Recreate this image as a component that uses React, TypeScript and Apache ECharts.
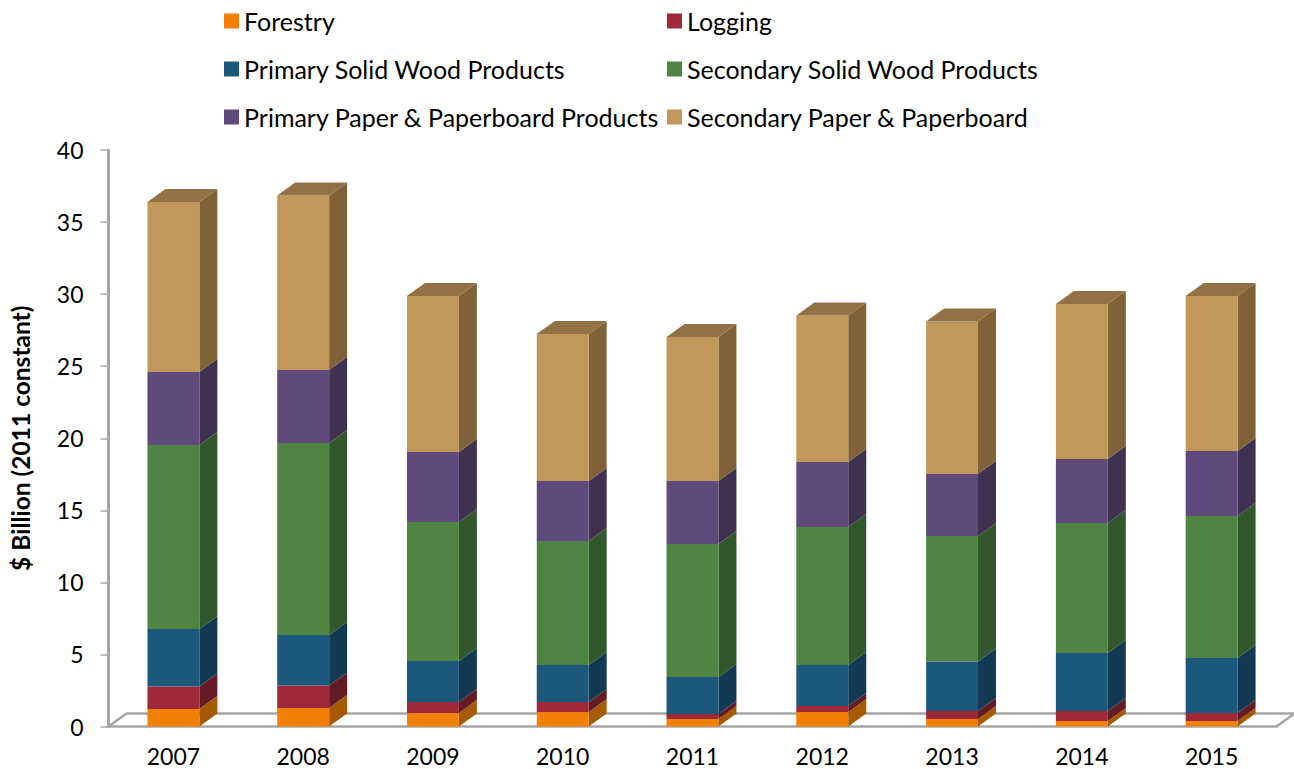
import React, { useEffect, useRef } from "react";
import * as echarts from "echarts";

const years = ["2007", "2008", "2009", "2010", "2011", "2012", "2013", "2014", "2015"];

const forestry = [1.21, 1.28, 0.94, 1.01, 0.52, 1.01, 0.52, 0.38, 0.38];
const logging = [1.57, 1.57, 0.76, 0.69, 0.35, 0.41, 0.56, 0.7, 0.56];
const primarySolid = [3.99, 3.5, 2.85, 2.57, 2.57, 2.85, 3.43, 4.02, 3.81];
const secondarySolid = [12.77, 13.32, 9.64, 8.6, 9.22, 9.57, 8.71, 9.02, 9.86];
const primaryPaper = [5.06, 5.07, 4.86, 4.17, 4.38, 4.52, 4.3, 4.44, 4.51];
const secondaryPaper = [11.8, 12.11, 10.82, 10.2, 9.99, 10.16, 10.58, 10.76, 10.75];

const layers = [
  { name: "Forestry", values: forestry, front: "#F28005", side: "#A65A03", top: "#C96A04" },
  { name: "Logging", values: logging, front: "#9E2A39", side: "#651B24", top: "#7E2230" },
  { name: "Primary Solid Wood Products", values: primarySolid, front: "#1B587C", side: "#123A52", top: "#164866" },
  { name: "Secondary Solid Wood Products", values: secondarySolid, front: "#4E8542", side: "#32572C", top: "#3F6C36" },
  { name: "Primary Paper & Paperboard Products", values: primaryPaper, front: "#604A7B", side: "#3F3150", top: "#4F3D66" },
  { name: "Secondary Paper & Paperboard", values: secondaryPaper, front: "#C19859", side: "#7F6237", top: "#927244" },
];

const leftLegend = [layers[0].name, layers[2].name, layers[4].name];
const rightLegend = [layers[1].name, layers[3].name, layers[5].name];

const FONT = "Lato, 'Open Sans', sans-serif";
const AXIS_GREY = "#A6A6A6";
const DEPTH_X = 18;
const DEPTH_Y = 13;
const BAR_SHARE = 0.4;

// Accumulates the layers so each segment knows where it starts and ends.
function buildSegments(values: number[], layerIndex: number) {
  return values.map((v, i) => {
    let start = 0;
    for (let l = 0; l < layerIndex; l++) start += layers[l].values[i];
    return [i, start, start + v];
  });
}

// A 3D-looking column segment: front face, right side face, and a lid on the top layer.
function segmentRenderer(layer: (typeof layers)[number], isTop: boolean) {
  return (_params: any, api: any) => {
    const cat = api.value(0);
    const [cx, yLow] = api.coord([cat, api.value(1)]);
    const [, yHigh] = api.coord([cat, api.value(2)]);
    const w = api.size([1, 0])[0] * BAR_SHARE;
    const x0 = cx - w / 2;
    const x1 = cx + w / 2;
    const children: any[] = [
      {
        type: "polygon",
        shape: {
          points: [
            [x1, yHigh],
            [x1 + DEPTH_X, yHigh - DEPTH_Y],
            [x1 + DEPTH_X, yLow - DEPTH_Y],
            [x1, yLow],
          ],
        },
        style: { fill: layer.side },
      },
      {
        type: "rect",
        shape: { x: x0, y: yHigh, width: w, height: yLow - yHigh },
        style: { fill: layer.front },
      },
    ];
    if (isTop) {
      children.push({
        type: "polygon",
        shape: {
          points: [
            [x0, yHigh],
            [x0 + DEPTH_X, yHigh - DEPTH_Y],
            [x1 + DEPTH_X, yHigh - DEPTH_Y],
            [x1, yHigh],
          ],
        },
        style: { fill: layer.top },
      });
    }
    return { type: "group", children };
  };
}

// Outline of the chart floor, sitting behind the columns.
function floorRenderer(params: any) {
  const { x, y, width, height } = params.coordSys;
  const base = y + height;
  return {
    type: "polyline",
    shape: {
      points: [
        [x, base],
        [x + DEPTH_X, base - DEPTH_Y],
        [x + width + DEPTH_X, base - DEPTH_Y],
        [x + width, base],
      ],
    },
    style: { stroke: AXIS_GREY, lineWidth: 2.5, fill: "none" },
  };
}

function legendAt(left: number, names: string[]) {
  return {
    orient: "vertical" as const,
    left,
    top: 2,
    icon: "rect",
    itemWidth: 15,
    itemHeight: 15,
    itemGap: 20,
    selectedMode: false,
    data: names,
    textStyle: { fontFamily: FONT, fontSize: 25, color: "#000", lineHeight: 28 },
  };
}

export default function App() {
  const ref = useRef<HTMLDivElement>(null);

  useEffect(() => {
    const chart = echarts.init(ref.current!, undefined, { renderer: "svg" });
    chart.setOption({
      animation: false,
      backgroundColor: "#fff",
      legend: [legendAt(219, leftLegend), legendAt(662, rightLegend)],
      grid: { left: 108.5, right: 17.5, top: 150, bottom: 42.5, outerBoundsMode: "none" },
      xAxis: {
        type: "category",
        data: years,
        axisLine: { lineStyle: { color: AXIS_GREY, width: 2.5 } },
        axisTick: { length: 8, lineStyle: { color: AXIS_GREY, width: 1.5 } },
        axisLabel: { fontFamily: FONT, fontSize: 23, color: "#000", margin: 18 },
      },
      yAxis: {
        type: "value",
        min: 0,
        max: 40,
        interval: 5,
        name: "$ Billion (2011 constant)",
        nameLocation: "middle",
        nameGap: 76,
        nameTextStyle: { fontFamily: FONT, fontSize: 24.5, fontWeight: "bold", color: "#000" },
        splitLine: { show: false },
        axisLine: { show: true, lineStyle: { color: AXIS_GREY, width: 3 } },
        axisTick: { show: true, length: 8, lineStyle: { color: AXIS_GREY, width: 1.5 } },
        axisLabel: { fontFamily: FONT, fontSize: 23, color: "#000", margin: 25 },
      },
      series: [
        {
          type: "custom",
          name: "floor",
          silent: true,
          z: 1,
          data: [[0, 0]],
          renderItem: floorRenderer,
          clip: false,
        },
        ...layers.map((layer, i) => ({
          type: "custom",
          name: layer.name,
          z: 2,
          itemStyle: { color: layer.front },
          encode: { x: 0, y: [1, 2] },
          data: buildSegments(layer.values, i),
          renderItem: segmentRenderer(layer, i === layers.length - 1),
          clip: false,
        })),
      ],
    });
    return () => chart.dispose();
  }, []);

  return (
    <div
      ref={ref}
      style={{ position: "absolute", left: 0, top: 0, width: 1294, height: 769 }}
    />
  );
}
